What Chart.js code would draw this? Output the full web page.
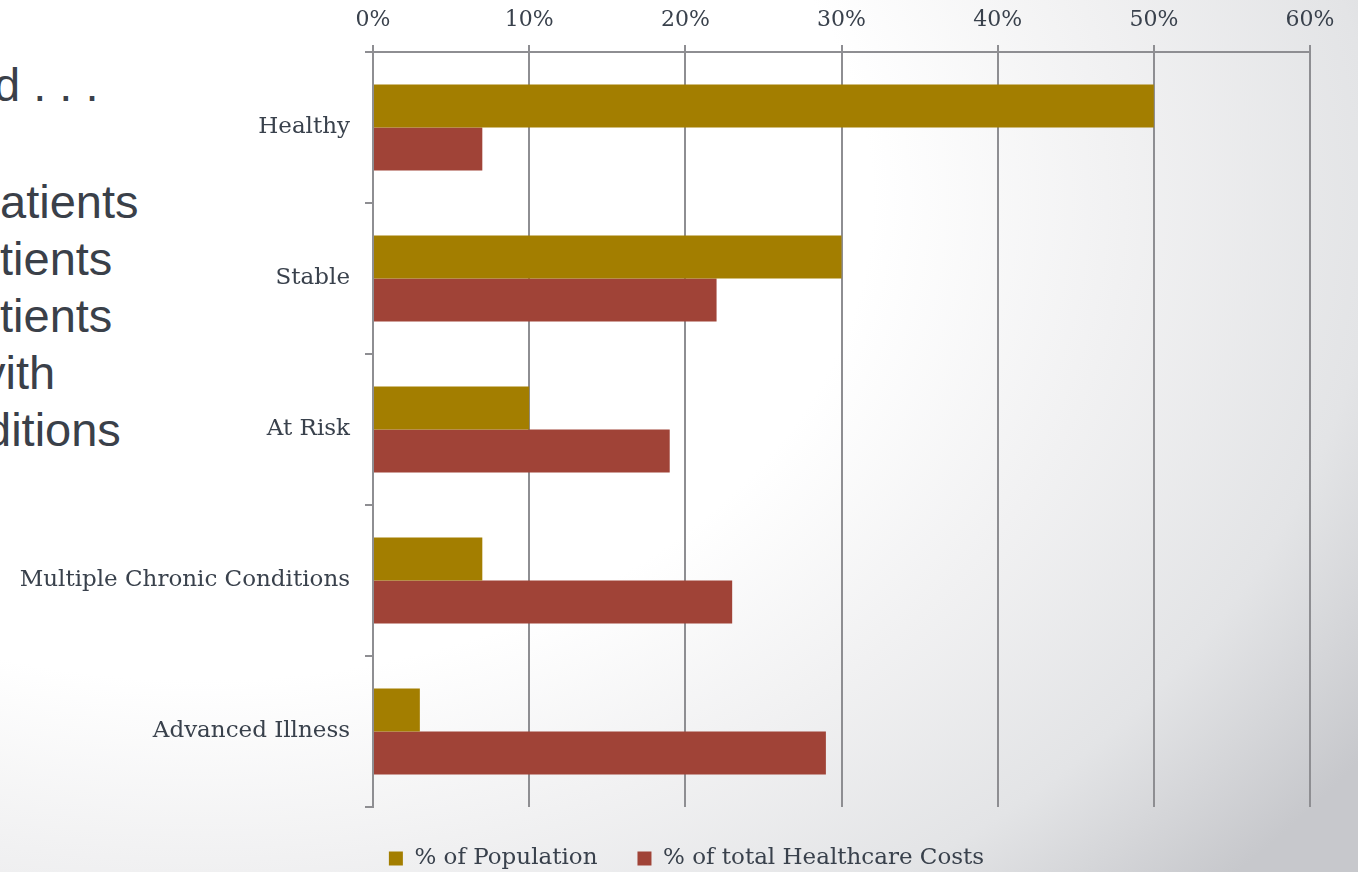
<!DOCTYPE html>
<html>
<head>
<meta charset="utf-8">
<script src="https://cdn.jsdelivr.net/npm/chart.js@4"></script>
<style>
  html, body { margin: 0; padding: 0; }
  body {
    width: 1358px; height: 872px; overflow: hidden; position: relative;
    background: radial-gradient(1400px 1000px at 200px 200px, #ffffff 0%, #ffffff 48%, #f1f1f2 66%, #e3e4e6 84%, #c7c8cc 100%);
  }
  #wrap { position: absolute; left: 0; top: 0; width: 1358px; height: 872px; }
  .side {
    position: absolute; font-family: "Liberation Sans", Arial, sans-serif;
    font-size: 47px; color: #3a4049; white-space: nowrap; line-height: 1;
  }
</style>
</head>
<body>
<div class="side" style="left:-6px;top:61px">d . . .</div>
<div class="side" style="left:0px;top:178px">atients</div>
<div class="side" style="left:0px;top:235px">tients</div>
<div class="side" style="left:0px;top:292px">tients</div>
<div class="side" style="left:-18px;top:349px">vith</div>
<div class="side" style="left:-15px;top:406px">ditions</div>
<div id="wrap"><canvas id="c" width="1358" height="872"></canvas></div>
<script>
const categories = ["Healthy", "Stable", "At Risk", "Multiple Chronic Conditions", "Advanced Illness"];
const populationShare = [50, 30, 10, 7, 3];
const costShare = [7, 22, 19, 23, 29];
const seriesNames = ["% of Population", "% of total Healthcare Costs"];
const axisMax = 60;
const axisStep = 10;

const gold = "#a37e00";
const brick = "#a04337";
const gridGray = "#8e8e92";
const textColor = "#39414c";
const serif = "'DejaVu Serif', 'Liberation Serif', serif";

// Center the legend under the span from the left slide margin to the plot's right edge
const legendCentering = {
  id: "legendCentering",
  beforeDraw(chart) {
    const lg = chart.legend;
    if (!lg) return;
    lg.left = 63;
    lg.right = chart.chartArea.right;
  }
};

new Chart(document.getElementById("c"), {
  type: "bar",
  data: {
    labels: categories,
    datasets: [
      { label: seriesNames[0], data: populationShare, backgroundColor: gold },
      { label: seriesNames[1], data: costShare, backgroundColor: brick }
    ]
  },
  options: {
    indexAxis: "y",
    responsive: false,
    animation: false,
    events: [],
    layout: { padding: { left: 10, right: 48, top: 0, bottom: -8 } },
    datasets: { bar: { categoryPercentage: 0.57, barPercentage: 1.0 } },
    scales: {
      x: {
        position: "top",
        min: 0, max: axisMax,
        ticks: {
          stepSize: axisStep,
          color: textColor,
          font: { family: serif, size: 22 },
          padding: 12,
          callback: v => v + "%"
        },
        grid: { color: gridGray, lineWidth: 2, tickLength: 7 },
        border: { color: gridGray, width: 2 },
        afterFit: s => { s.height = 52; }
      },
      y: {
        ticks: {
          color: textColor,
          font: { family: serif, size: 23 },
          padding: 15
        },
        grid: { display: true, drawOnChartArea: false, offset: true, color: gridGray, lineWidth: 2, tickLength: 8 },
        border: { color: gridGray, width: 2 },
        afterFit: s => { s.width = 363; }
      }
    },
    plugins: {
      legend: {
        position: "bottom",
        labels: {
          color: textColor,
          font: { family: serif, size: 23 },
          boxWidth: 14, boxHeight: 14,
          padding: 40,
          useBorderRadius: false
        }
      },
      tooltip: { enabled: false }
    }
  },
  plugins: [legendCentering]
});
</script>
</body>
</html>
